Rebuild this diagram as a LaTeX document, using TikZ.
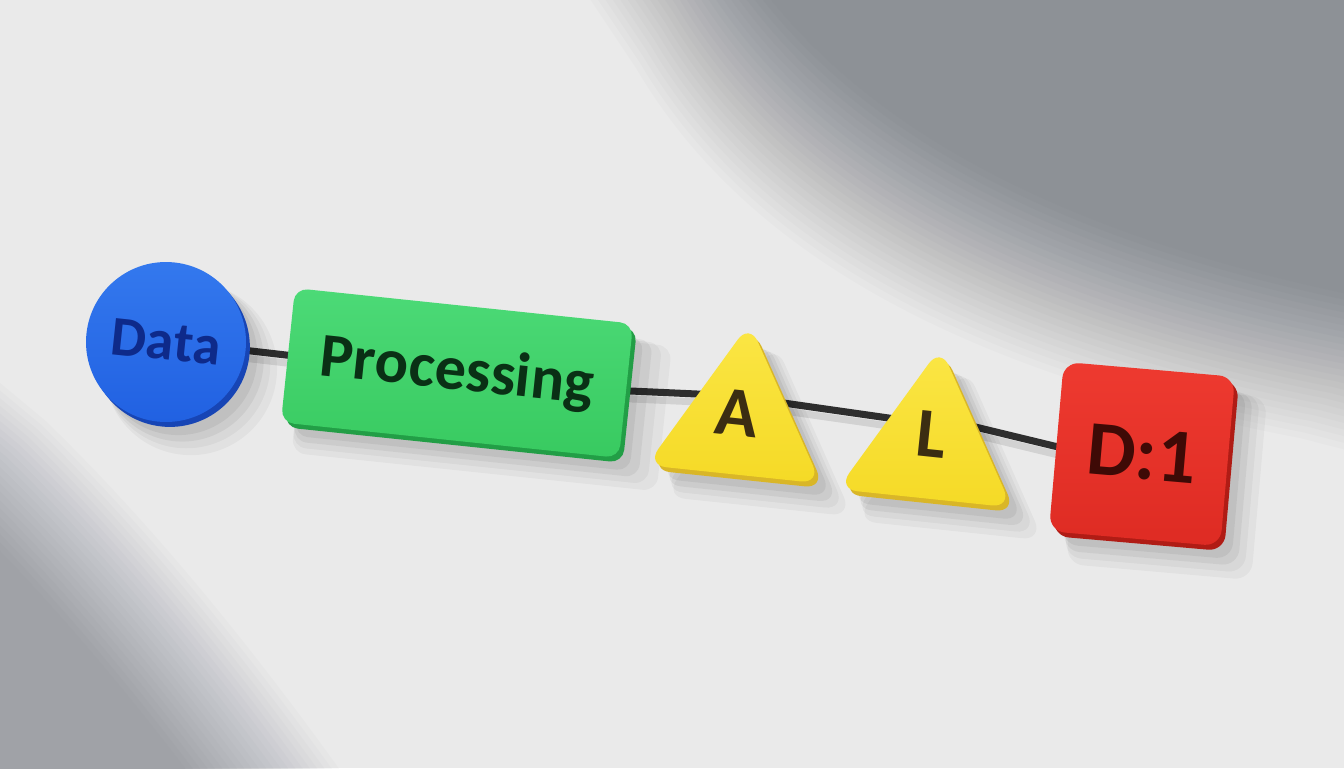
\documentclass[tikz,border=0pt]{standalone}
\usepackage{fontspec}
\setmainfont{Carlito}[Kerning=Off]
\usetikzlibrary{shapes.geometric,shadows}
\pgfdeclarelayer{wall}
\pgfdeclarelayer{rod}
\pgfsetlayers{wall,rod,main}
\definecolor{wallbase}{HTML}{EAEAEA}
\definecolor{shadetr}{HTML}{8D9196}
\definecolor{shadebl}{HTML}{A0A2A7}
\definecolor{bluetop}{HTML}{3479EE}
\definecolor{bluebot}{HTML}{2161E2}
\definecolor{blueedge}{HTML}{1745B5}
\definecolor{bluetext}{HTML}{0E2A8A}
\definecolor{greentop}{HTML}{4CDA77}
\definecolor{greenbot}{HTML}{38CA60}
\definecolor{greenedge}{HTML}{229E46}
\definecolor{greentext}{HTML}{0A3015}
\definecolor{yeltop}{HTML}{FBE645}
\definecolor{yelbot}{HTML}{F5DA26}
\definecolor{yeledge}{HTML}{D9B628}
\definecolor{yeltext}{HTML}{3B2D12}
\definecolor{redtop}{HTML}{EE3A30}
\definecolor{redbot}{HTML}{DE2B23}
\definecolor{rededge}{HTML}{B01C15}
\definecolor{redtext}{HTML}{3E0A06}
\definecolor{rodcol}{HTML}{2E2E2E}
\begin{document}
\begin{tikzpicture}[x=0.02cm,y=-0.02cm,
  shadowed/.style={
    general shadow={fill=black,opacity=.035,shadow xshift=13pt,shadow yshift=-14pt,shadow scale=1.08},
    general shadow={fill=black,opacity=.04,shadow xshift=11pt,shadow yshift=-12pt,shadow scale=1.05},
    general shadow={fill=black,opacity=.05,shadow xshift=9pt,shadow yshift=-10pt,shadow scale=1.02},
    general shadow={fill=black,opacity=.06,shadow xshift=7pt,shadow yshift=-8pt,shadow scale=0.99}},
  rim/.style={general shadow={fill=#1,shadow xshift=2.2pt,shadow yshift=-2.8pt}},
  lbl/.style={font=\bfseries\fontsize{#1}{#1}\selectfont, rotate=-6, inner sep=0pt},
  rodline/.style={draw=rodcol, line width=4pt, shorten <=-8pt, shorten >=-8pt},
  rodshadow/.style={draw=black, opacity=.10, line width=4pt, shorten <=-8pt, shorten >=-8pt},
  dataface/.style={circle, minimum size=3.2cm, inner sep=0pt, rotate=-6, shadowed, rim=blueedge,
    top color=bluetop, bottom color=bluebot, text=bluetext, font=\bfseries\fontsize{32pt}{32pt}\selectfont},
  procface/.style={rectangle, rounded corners=0.26cm, minimum width=6.8cm, minimum height=2.7cm, rotate=-6,
    shadowed, rim=greenedge, top color=greentop, bottom color=greenbot, text=greentext,
    font=\bfseries\fontsize{35.5pt}{35.5pt}\selectfont},
  triface/.style={regular polygon, regular polygon sides=3, minimum size=4.05cm, rounded corners=0.4cm,
    rotate=-6, inner sep=0pt, shadowed, rim=yeledge, top color=yeltop, bottom color=yelbot},
  endface/.style={rectangle, rounded corners=0.32cm, minimum width=3.44cm, minimum height=3.4cm, rotate=-5,
    shadowed, rim=rededge, top color=redtop, bottom color=redbot, text=redtext,
    font=\bfseries\fontsize{44pt}{44pt}\selectfont}
]
\useasboundingbox (0,0) rectangle (1344,768);
% wall with light and shadow (linear soft edges)
\begin{pgfonlayer}{wall}
  \fill[wallbase] (0,0) rectangle (1344,768);
  \foreach \i in {1,...,25} {
    \pgfmathsetmacro\op{1/(26-\i)}
    \pgfmathsetmacro\s{-80+(\i-1)*160/24}
    \fill[shadetr,opacity=\op,shift={({0.55*\s},{-0.85*\s})}]
      (600,-120) -- (680,0) .. controls (780,170) and (980,300) .. (1344,370)
      -- (1460,400) -- (1460,-120) -- cycle;
  }
  \foreach \i in {1,...,22} {
    \pgfmathsetmacro\op{1/(23-\i)}
    \pgfmathsetmacro\s{-65+(\i-1)*130/21}
    \fill[shadebl,opacity=\op,shift={({-0.7*\s},{0.65*\s})}]
      (-100,380) -- (0,463) .. controls (100,560) and (200,680) .. (300,820)
      -- (-100,820) -- cycle;
  }
\end{pgfonlayer}
% nodes
\node[dataface] (data) at (166,342) {Data};
\node[procface] (proc) at (457,373) {Processing};
\node[triface] (triA) at (739,424) {};
\node[triface] (triL) at (930,448) {};
\node[endface] (dend) at (1142,454) {D:1};
\node[lbl=40pt, text=yeltext] (labA) at (737,413) {A};
\node[lbl=40pt, text=yeltext] (labL) at (932,434) {L};
% rods behind the pieces
\begin{pgfonlayer}{rod}
  \begin{scope}[transform canvas={yshift=-4.5pt}]
    \draw[rodshadow] (data.east) -- (proc.west);
    \draw[rodshadow] (proc.east) -- (triA.side 1);
    \draw[rodshadow] (triA.side 3) -- (triL.side 1);
    \draw[rodshadow] (triL.side 3) -- (dend.west);
  \end{scope}
  \draw[rodline] (data.east) -- (proc.west);
  \draw[rodline] (proc.east) -- (triA.side 1);
  \draw[rodline] (triA.side 3) -- (triL.side 1);
  \draw[rodline] (triL.side 3) -- (dend.west);
\end{pgfonlayer}
\end{tikzpicture}
\end{document}
